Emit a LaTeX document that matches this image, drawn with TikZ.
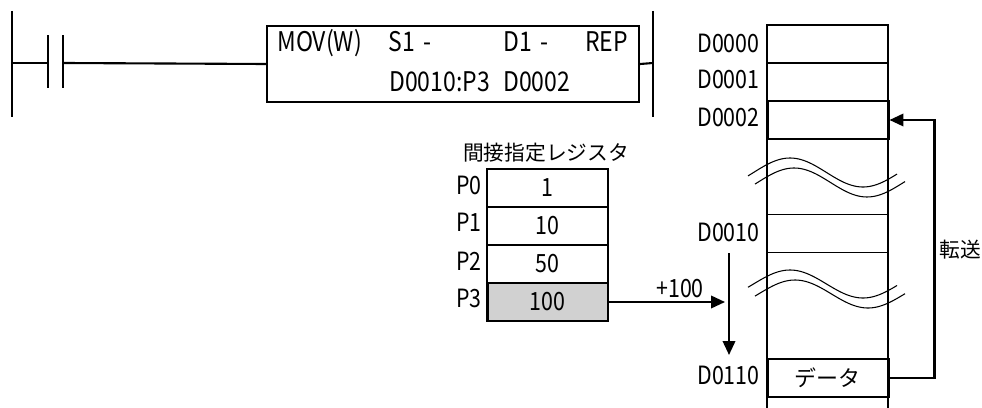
\documentclass[tikz,border=0pt]{standalone}
\usepackage{fontspec}
\setmainfont[FakeStretch=0.85]{Noto Sans CJK JP}
\newfontfamily\jpfont{Noto Sans CJK JP}
\usetikzlibrary{arrows.meta}
\begin{document}
\begin{tikzpicture}[x=0.02cm,y=-0.02cm,
  txt/.style={inner sep=0,font=\fontsize{14.3}{17}\selectfont},
  btxt/.style={inner sep=0,anchor=base west,font=\fontsize{15.4}{18}\selectfont},
  jtxt/.style={inner sep=0,font=\jpfont\fontsize{11.8}{14}\selectfont},
  lbl/.style={txt,anchor=base west},
  cell/.style={draw,line width=0.9pt,minimum width=2.42cm,minimum height=0.76cm,inner sep=0,txt},
  hcell/.style={cell,line width=1.7pt},
  rail/.style={line width=1.5pt},
  conn/.style={line width=1.2pt},
  arr/.style={conn,-{Triangle[length=2.8mm,width=2.5mm]}},
  wave/.style={line width=0.6pt}]
\useasboundingbox (0,0) rectangle (982,408);

% ---- ladder ----
\coordinate (lt) at (12,11);
\coordinate (lb) at (12,117);
\coordinate (rt) at (653,11);
\coordinate (rb) at (653,117);
\coordinate (lm) at (12,63);
\coordinate (rm) at (653,63);
\coordinate (ca) at (48,63);
\coordinate (cb) at (63,63);
\draw[rail] (lt) -- (lb);
\draw[rail] (rt) -- (rb);
\draw[rail] ([yshift=-14]ca) -- ([yshift=16]ca);
\draw[rail] ([yshift=-14]cb) -- ([yshift=16]cb);
\node[draw,line width=1.3pt,minimum width=7.44cm,minimum height=1.52cm,inner sep=0] (mov) at (453,64) {};
\draw[conn] (lm) -- (ca);
\draw[conn] (cb) -- (mov.west);
\draw[conn] (mov.east) -- (rm);
\node[btxt] (t1) at (277,52) {MOV(W)};
\node[btxt] (t2) at (388,52) {S1\,\,-};
\node[btxt] (t3) at (503,52) {D1\,\,-};
\node[btxt] (t4) at (585,52) {REP};
\node[btxt] (t5) at (389,92) {D0010:P3};
\node[btxt] (t6) at (503,92) {D0002};

% ---- data memory column ----
\draw[line width=0.9pt] (767,25) -- (767,408);
\draw[line width=0.9pt] (888,25) -- (888,408);
\node[cell] (d0) at (827.5,44) {};
\node[cell] (d1) at (827.5,82) {};
\node[hcell] (d2) at (827.5,120) {};
\node[cell] (d10) at (827.5,233.5) {};
\node[hcell,font=\jpfont\fontsize{12.5}{14}\selectfont] (d110) at (827.5,378) {データ};
\node[lbl] (l0) at (697,53) {D0000};
\node[lbl] (l1) at (697,89) {D0001};
\node[lbl] (l2) at (697,127) {D0002};
\node[lbl] (l10) at (697,241) {D0010};
\node[lbl] (l110) at (697,384) {D0110};

% waves
\draw[wave] plot[domain=748:897,samples=60] (\x,{172.5-14.5*cos((\x-790)/146*360)});
\draw[wave] plot[domain=755:905,samples=60] (\x,{182.5-14.5*cos((\x-794)/146*360)});
\draw[wave] plot[domain=748:897,samples=60] (\x,{284-14*cos((\x-790)/146*360)});
\draw[wave] plot[domain=755:905,samples=60] (\x,{294-14*cos((\x-795)/146*360)});

% transfer arrow
\draw[arr] (d110.east) -- ++(45,0) |- (d2.east);
\node[jtxt,anchor=west] (tr) at (939,250) {転送};

% ---- pointer registers ----
\node[jtxt] (ptitle) at (546,153) {間接指定レジスタ};
\node[cell] (p0) at (547.5,188) {\raisebox{-2pt}{1}};
\node[cell] (p1) at (547.5,226) {\raisebox{-2pt}{10}};
\node[cell] (p2) at (547.5,264) {\raisebox{-2pt}{50}};
\node[hcell,fill=black!18] (p3) at (547.5,302) {\raisebox{-2pt}{100}};
\node[lbl] (q0) at (456,195) {P0};
\node[lbl] (q1) at (456,232) {P1};
\node[lbl] (q2) at (456,270) {P2};
\node[lbl] (q3) at (456,307) {P3};

% offset arrows
\coordinate (pe) at (725,302);
\draw[arr] (p3.east) -- (pe);
\node[lbl] (plus) at (656,297) {+100};
\coordinate (vs) at (729,253);
\coordinate (ve) at (729,355);
\draw[arr] (vs) -- (ve);
\end{tikzpicture}
\end{document}
